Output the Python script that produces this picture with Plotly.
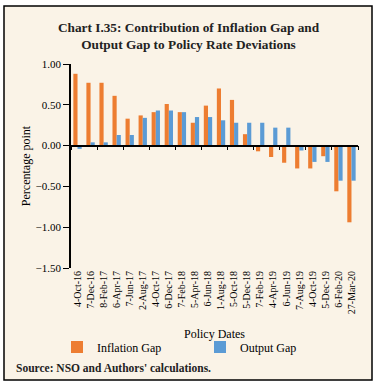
import plotly.graph_objects as go

categories = ["4-Oct-16", "7-Dec-16", "8-Feb-17", "6-Apr-17", "7-Jun-17", "2-Aug-17",
              "4-Oct-17", "6-Dec-17", "7-Feb-18", "5-Apr-18", "6-Jun-18", "1-Aug-18",
              "5-Oct-18", "5-Dec-18", "7-Feb-19", "4-Apr-19", "6-Jun-19", "7-Aug-19",
              "4-Oct-19", "5-Dec-19", "6-Feb-20", "27-Mar-20"]
inflation_gap = [0.88, 0.77, 0.77, 0.61, 0.33, 0.37, 0.41, 0.51, 0.41, 0.28, 0.49, 0.70,
                 0.56, 0.14, -0.07, -0.14, -0.21, -0.28, -0.28, -0.13, -0.56, -0.94]
output_gap = [-0.04, 0.04, 0.04, 0.13, 0.13, 0.34, 0.43, 0.43, 0.41, 0.35, 0.35, 0.31,
              0.28, 0.28, 0.28, 0.22, 0.22, -0.06, -0.20, -0.20, -0.43, -0.43]
y_ticks = [1.0, 0.5, 0.0, -0.5, -1.0, -1.5]

W, H = 377, 386
L, R, T, B = 71, 19, 64, 118
pw, ph = W - L - R, H - T - B
def px(x): return (x - L) / pw
def py(y): return (H - B - y) / ph

SERIF = "Liberation Serif"
n = len(categories)
fig = go.Figure()
fig.add_trace(go.Bar(x=categories, y=inflation_gap, name="Inflation Gap",
                     marker=dict(color="#ED7D31", line=dict(width=0))))
fig.add_trace(go.Bar(x=categories, y=output_gap, name="Output Gap",
                     marker=dict(color="#5B9BD5", line=dict(width=0))))
fig.add_trace(go.Scatter(x=categories, y=[None] * n, xaxis="x2",
                         showlegend=False, hoverinfo="skip", mode="lines"))

fig.add_shape(type="rect", xref="paper", yref="paper",
              x0=px(4), x1=px(372), y0=py(380), y1=py(6),
              line=dict(color="black", width=1.5), fillcolor="#FAF3E7", layer="below")

fig.update_layout(
    width=W, height=H,
    margin=dict(l=L, r=R, t=T, b=B, autoexpand=False),
    paper_bgcolor="white", plot_bgcolor="rgba(0,0,0,0)",
    barmode="group", bargap=0.36, bargroupgap=0.0,
    font=dict(family=SERIF, color="black", size=11),
    title=dict(text="<b>Chart I.35: Contribution of Inflation Gap and<br>Output Gap to Policy Rate Deviations</b>",
               x=0.5, xref="container", xanchor="center", y=1 - 32 / H, yanchor="middle",
               font=dict(family=SERIF, size=13.3, color="#222222")),
    xaxis=dict(type="category", categoryorder="array", categoryarray=categories,
               range=[-0.5, n - 0.5], autorange=False,
               tickmode="array", tickvals=categories, ticktext=categories,
               showline=False, ticks="", tickangle=-90, tickfont=dict(size=10),
               title=dict(text="Policy Dates", font=dict(size=12), standoff=16),
               showgrid=False, zeroline=False, automargin=False),
    xaxis2=dict(type="category", categoryorder="array", categoryarray=categories,
                overlaying="x", matches="x", anchor="free", position=1.5 / 2.5,
                showline=True, linecolor="black", linewidth=1.5,
                ticks="outside", ticklen=4, tickwidth=1.2, tickcolor="black",
                tickson="boundaries", showticklabels=False, showgrid=False, zeroline=False),
    yaxis=dict(range=[-1.5, 1.0], tickvals=y_ticks, tickformat=".2f",
               showline=True, linecolor="black", linewidth=1.5,
               ticks="outside", ticklen=6, tickcolor="black", tickwidth=1.2,
               showgrid=False, zeroline=False, tickfont=dict(size=11), automargin=False,
               title=dict(text="Percentage point", font=dict(size=12), standoff=2)),
    legend=dict(orientation="h", x=px(57), y=py(347), xanchor="left", yanchor="middle",
                font=dict(size=12), bgcolor="rgba(0,0,0,0)", entrywidth=98,
                itemwidth=30, traceorder="normal"),
    annotations=[dict(text="<b>Source: NSO and Authors' calculations.</b>",
                      xref="paper", yref="paper", x=px(14), y=py(368),
                      xanchor="left", yanchor="middle", showarrow=False,
                      font=dict(family=SERIF, size=11.5, color="#222222"))],
)
fig.write_html("out.html", config={"displayModeBar": False},
               post_script="document.body.style.margin='0';")
